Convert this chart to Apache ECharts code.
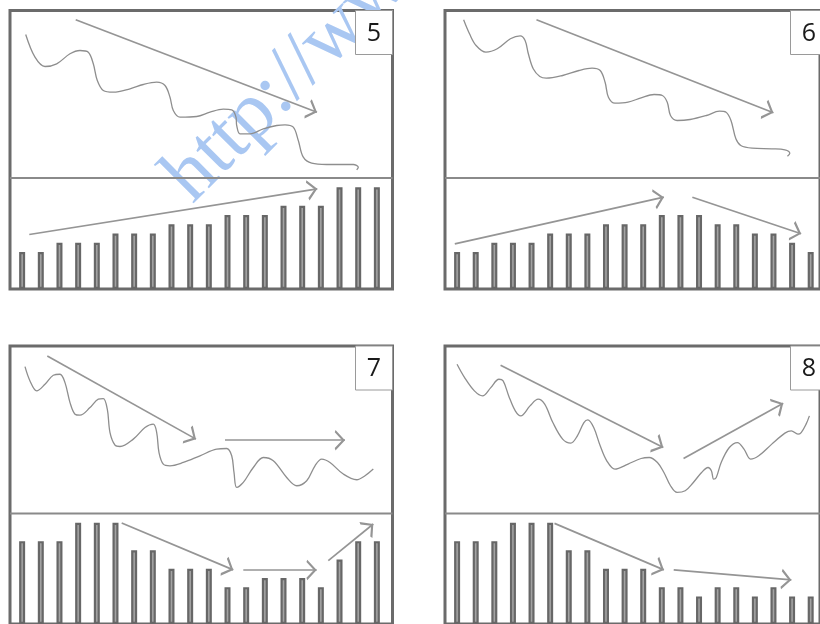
<!DOCTYPE html>
<html><head><meta charset="utf-8">
<script src="https://cdn.jsdelivr.net/npm/echarts@6/dist/echarts.min.js"></script>
<style>html,body{margin:0;padding:0;background:#fff}#c{width:820px;height:624px}</style>
</head><body><div id="c"></div>
<script>
// ---------- data ----------
const panelLabels = ['5', '6', '7', '8'];
const barCategories = ['1','2','3','4','5','6','7','8','9','10','11','12','13','14','15','16','17','18','19','20'];

// volume bars (units)
const vol5 = [4,4,5,5,5,6,6,6,7,7,7,8,8,8,9,9,9,11,11,11];
const vol6 = [4,4,5,5,5,6,6,6,7,7,7,8,8,8,7,7,6,6,5,4];
const vol7 = [9,9,9,11,11,11,8,8,6,6,6,4,4,5,5,5,4,7,9,9];
const vol8 = [9,9,9,11,11,11,8,8,6,6,6,4,4,3,4,4,3,4,3,3];

// price curves: [time, depth] in panel units (depth grows downward)
const price5 = [[15.7,24],[25,46.7],[35,56],[46.7,53.3],[60,43.3],[70,40],[78.3,41.7],[83.3,53.3],[87.3,70],[93.3,80],[103.3,81.7],[120,78.3],[133.3,74],[146.7,71.7],[155,75],[160,86.7],[163.3,100],[170,106.7],[186.7,106],[200,101.7],[213.3,98.7],[221.7,99.3],[226,106.7],[226.7,115],[230,123.3],[240,123.3],[253.3,118.3],[266.7,115],[275,114.3],[283.3,116.7],[288.3,130],[293.3,146.7],[301.7,152.7],[316.7,154],[333.3,154],[343.3,154],[348.3,156.7],[346.7,159.3]];
const price6 = [[19,9.3],[25,23.3],[31.7,35],[41.7,41.7],[53.3,38.3],[66.7,28.3],[76.7,25.3],[81.7,30],[85,43.3],[90,58.3],[96.7,66],[103.3,67.7],[120,65],[136.7,60],[150,57.7],[158.3,60],[163.3,71.7],[166.7,86.7],[173.3,92.7],[186.7,91.7],[200,87.3],[213.3,84],[221.7,85],[226.7,91.7],[230,105],[236.7,110],[250,109],[266.7,105],[280,100.7],[286.7,101.7],[291.7,110],[296.7,128.3],[301.7,135],[313.3,137.7],[333.3,138.3],[346.7,139.3],[351.7,142.7],[349.3,145.7]];
const price7 = [[15,20.7],[20,35],[26.7,45],[35,38.3],[43.3,29.3],[50,28.3],[55,36.7],[60,56.7],[65,68.3],[70,69.3],[80,61.7],[88.3,53.3],[93.3,52.7],[97.3,63.3],[100,86.7],[105,99.3],[110,100.7],[123.3,93.3],[135,81.7],[143.3,78.3],[146.7,86.7],[149,106.7],[153.3,118.3],[160,120],[173.3,116.7],[190,110],[206.7,103.3],[216.7,102.7],[221.7,110],[224,126.7],[226.7,141.7],[233.3,136.7],[243.3,121.7],[253.3,111.7],[263.3,115],[276.7,131.7],[286.7,140],[296.7,135],[305,120],[311.7,113.3],[320,116.7],[333.3,128.3],[346.7,134],[355,130],[363.3,123.3]];
const price8 = [[12.3,18.3],[20,31.7],[30,45],[38.3,50],[46.7,41.7],[55,33.3],[59.3,35],[65,50],[71.7,65],[77.3,70],[86.7,60],[95,53.3],[101.7,58.3],[110,76.7],[120,93.3],[128.3,97.3],[135,90],[141.7,76.7],[145.7,74],[151.7,81.7],[158.3,100],[165,115],[173.3,123.3],[186.7,118.3],[200,112.7],[208.3,111.7],[216.7,116.7],[223.3,126.7],[230,140],[236.7,146.7],[245,145],[253.3,136.7],[261.7,126.7],[268.3,121.7],[271.7,125],[274,133.3],[276.7,131.7],[281.7,116.7],[290,101.7],[298.3,96.7],[305,103.3],[311.7,113.3],[320,110],[333.3,98.3],[346.7,87.3],[353.3,85],[360,88.3],[363.3,86.7],[368.3,78.3],[371.7,70]];

// trend arrows: [[fromTime, fromDepth], [toTime, toDepth]]
const arrows5 = [[[65.7,9.3],[307,101.7]], [[19.3,224],[307.3,178.3]]];
const arrows6 = [[[93.3,9.3],[335,102.3]], [[10,233.3],[223.3,186.7]], [[252.3,186.7],[363.3,223.3]]];
const arrows7 = [[[37.3,10],[186,93.3]], [[215,94.3],[335,94.3]], [[111.7,177.3],[223.3,224.3]], [[233.3,224.3],[306.7,224.3]], [[318.3,215],[363.3,178.3]]];
const arrows8 = [[[56.7,19.3],[222.7,101.7]], [[243.3,112.7],[345,57.3]], [[111.7,177.7],[223.3,224.3]], [[233.3,224.3],[353.3,234.3]]];

const watermarkText = 'http://www';

// ---------- layout ----------
const PW = 382.5, PH = 278.5, DIV = 167.5;
const layout = [
  {left: 10,  top: 10.5, price: price5, vol: vol5, arrows: arrows5},
  {left: 445, top: 10.5, price: price6, vol: vol6, arrows: arrows6},
  {left: 10,  top: 346,  price: price7, vol: vol7, arrows: arrows7},
  {left: 445, top: 346,  price: price8, vol: vol8, arrows: arrows8}
];
const chevron = 'path://M50,0 L100,86 L88,93 L50,26 L12,93 L0,86 Z M50,-93 L50.4,-93 L50,-92.6 Z';

const grid = [], xAxis = [], yAxis = [], series = [], graphic = [];
layout.forEach((p, i) => {
  grid.push({left: p.left, top: p.top, width: PW, height: PH, show: true,
    borderColor: '#6b6b6b', borderWidth: 3, backgroundColor: 'transparent'});
  xAxis.push({type: 'value', gridIndex: 2*i, min: 0, max: PW, show: false});
  yAxis.push({type: 'value', gridIndex: 2*i, min: 0, max: PH, inverse: true, show: false});
  grid.push({left: p.left + 2.8, top: p.top + DIV, width: 373.4, height: PH - DIV, show: false});
  xAxis.push({type: 'category', gridIndex: 2*i+1, data: barCategories, show: false});
  yAxis.push({type: 'value', gridIndex: 2*i+1, min: 0, max: 12, show: false});

  series.push({type: 'bar', xAxisIndex: 2*i+1, yAxisIndex: 2*i+1, data: p.vol, barWidth: 6,
    itemStyle: {color: '#a3a3a3', borderColor: '#676767', borderWidth: 2.2}, silent: true, z: 1});
  series.push({type: 'line', xAxisIndex: 2*i, yAxisIndex: 2*i, data: p.price, smooth: 0.35,
    showSymbol: false, symbol: 'none', clip: false,
    lineStyle: {color: '#8e8e8e', width: 1.3}, silent: true, z: 3});
  series.push({type: 'lines', coordinateSystem: 'cartesian2d', xAxisIndex: 2*i, yAxisIndex: 2*i,
    data: p.arrows.map(a => ({coords: a})),
    symbol: ['none', chevron], symbolSize: [11, 20.5],
    lineStyle: {color: '#959595', width: 1.7, opacity: 1, curveness: 0}, silent: true, z: 4});

  graphic.push({type: 'line', shape: {x1: p.left, y1: p.top + DIV, x2: p.left + PW, y2: p.top + DIV},
    style: {stroke: '#8a8a8a', lineWidth: 2}, z: 5});
  graphic.push({type: 'rect', shape: {x: p.left + 345.5, y: p.top, width: 37, height: 44},
    style: {fill: '#fff', stroke: '#9a9a9a', lineWidth: 1}, z: 6});
  graphic.push({type: 'text', x: p.left + 364, y: p.top + 23,
    style: {text: panelLabels[i], fontSize: 25, fontFamily: 'Open Sans', fill: '#1a1a1a',
      textAlign: 'center', textVerticalAlign: 'middle'}, z: 7});
});
graphic.push({type: 'text', x: 206, y: 218, rotation: Math.PI / 4,
  style: {text: watermarkText, fontSize: 80, fontFamily: 'Liberation Serif', fill: '#a9c7f2',
    textAlign: 'left', textVerticalAlign: 'bottom'}, z: 0});

const chart = echarts.init(document.getElementById('c'), null, {renderer: 'canvas'});
chart.setOption({animation: false, grid, xAxis, yAxis, series, graphic});
</script>
</body></html>
